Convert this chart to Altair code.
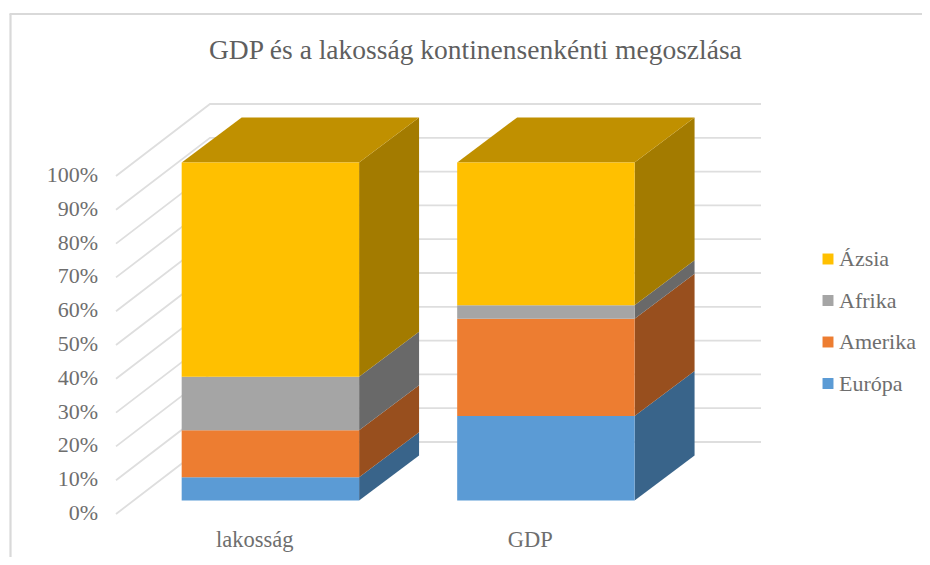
import altair as alt
import pandas as pd

TITLE = "GDP és a lakosság kontinensenkénti megoszlása"
categories = ["lakosság", "GDP"]
series = ["Európa", "Amerika", "Afrika", "Ázsia"]
lakossag = [6.9, 13.9, 15.8, 63.4]
gdp = [25.0, 28.8, 4.0, 42.2]
values = [lakossag, gdp]
ticks = list(range(0, 101, 10))
front = ["#5B9BD5", "#ED7D31", "#A5A5A5", "#FFC000"]
side = ["#39648A", "#984F1E", "#696969", "#A37B00"]
top_face = "#C09000"
grid_color = "#DEDEDE"
text_color = "#6E6E6E"
font = "Liberation Serif"

W, H = 914, 549
PX_PER_U, PX_PER_V = 275.5, 3.38
DX, DY = 94 / PX_PER_U, 72 / PX_PER_V   # full depth of the 3-D box in data units
D0, D1 = 0.1875, 0.8125                 # front and back of the columns (vertical)
DX0, DX1 = 0.177, 0.815                 # front and back of the columns (horizontal)
BAR = 0.644
x_scale = alt.Scale(domain=[(8 - 253.75) / PX_PER_U, (8 + W - 253.75) / PX_PER_U], nice=False, zero=False)
y_scale = alt.Scale(domain=[(514 - 8 - H) / PX_PER_V, (514 - 8) / PX_PER_V], nice=False, zero=False)
X = alt.X("x:Q", scale=x_scale, axis=None)
Y = alt.Y("y:Q", scale=y_scale, axis=None)

# walls
grid_rows = []
for t in ticks:
    for x, y in [(-0.5, t), (-0.5 + DX, t + DY), (1.5 + DX, t + DY)]:
        grid_rows.append({"t": t, "x": x, "y": y})
grid = alt.Chart(pd.DataFrame(grid_rows)).mark_line(color=grid_color, strokeWidth=1.8).encode(
    x=X, y=Y, detail="t:N", order=alt.Order("x:Q"))

fronts, sides, tops = [], [], []
for i, cat in enumerate(categories):
    base = 0.0
    u0, u1 = i - BAR / 2 + DX0 * DX, i + BAR / 2 + DX0 * DX
    for j, s in enumerate(series):
        v0, v1 = base + D0 * DY, base + values[i][j] + D0 * DY
        base += values[i][j]
        fronts.append({"x": u0, "x2": u1, "y": v0, "y2": v1, "series": s})
        sid = f"{i}-{j}"
        sides.append({"id": sid, "x": u1, "y": v0, "y2": v1, "shade": side[j]})
        sides.append({"id": sid, "x": u1 + (DX1 - DX0) * DX, "y": v0 + (D1 - D0) * DY,
                      "y2": v1 + (D1 - D0) * DY, "shade": side[j]})
    t = 100 + D0 * DY
    tops.append({"id": i, "y": t, "x": u0, "x2": u1})
    tops.append({"id": i, "y": t + (D1 - D0) * DY, "x": u0 + (DX1 - DX0) * DX, "x2": u1 + (DX1 - DX0) * DX})

side_layer = alt.Chart(pd.DataFrame(sides)).mark_area(orient="vertical").encode(
    x=X, y=Y, y2="y2:Q", detail="id:N", color=alt.Color("shade:N", scale=None))
top_layer = alt.Chart(pd.DataFrame(tops)).mark_area(orient="horizontal", color=top_face).encode(
    y=Y, x=X, x2="x2:Q", detail="id:N")
front_layer = alt.Chart(pd.DataFrame(fronts)).mark_rect().encode(
    x=X, x2="x2:Q", y=Y, y2="y2:Q",
    fill=alt.Fill("series:N",
                  scale=alt.Scale(domain=series[::-1], range=front[::-1]),
                  legend=alt.Legend(title=None, orient="none", legendX=809, legendY=240,
                                    symbolType="square", symbolSize=120, symbolStrokeWidth=0,
                                    labelFont=font, labelFontSize=22, labelColor=text_color,
                                    labelOffset=0, rowPadding=19.5, labelLimit=200)))

tick_labels = alt.Chart(pd.DataFrame({"label": [f"{t}%" for t in ticks],
                                      "y": [t for t in ticks]})).mark_text(
    align="right", baseline="middle", font=font, fontSize=22, color=text_color, dy=-1).encode(
    x=alt.value(90), y=Y, text="label:N")
cat_labels = alt.Chart(pd.DataFrame({"label": categories, "x": [0, 1], "y": [-7.7, -7.7]})).mark_text(
    align="center", baseline="middle", font=font, fontSize=22.5, color=text_color, dx=1).encode(
    x=X, y=Y, text="label:N")

frame_top = alt.Chart(pd.DataFrame({"a": [0]})).mark_rule(color="#D9D9D9", strokeWidth=2.2).encode(
    x=alt.value(1.5), x2=alt.value(W), y=alt.value(6))
frame_left = alt.Chart(pd.DataFrame({"a": [0]})).mark_rule(color="#D9D9D9", strokeWidth=2.2).encode(
    x=alt.value(2.5), y=alt.value(6), y2=alt.value(H))

chart = alt.layer(frame_top, frame_left, grid, side_layer, top_layer, front_layer, tick_labels, cat_labels).properties(
    width=W, height=H, padding=0, background="white", autosize=alt.AutoSizeParams(type="none"),
    title=alt.TitleParams(TITLE, anchor="start", orient="top", offset=-56, dx=201, frame="group",
                          font=font, fontSize=27.5, fontWeight="normal", color="#5F5F5F"),
).resolve_scale(color="independent").configure_view(stroke=None)

chart.save("out.html", embed_options={"renderer": "svg", "actions": False})
